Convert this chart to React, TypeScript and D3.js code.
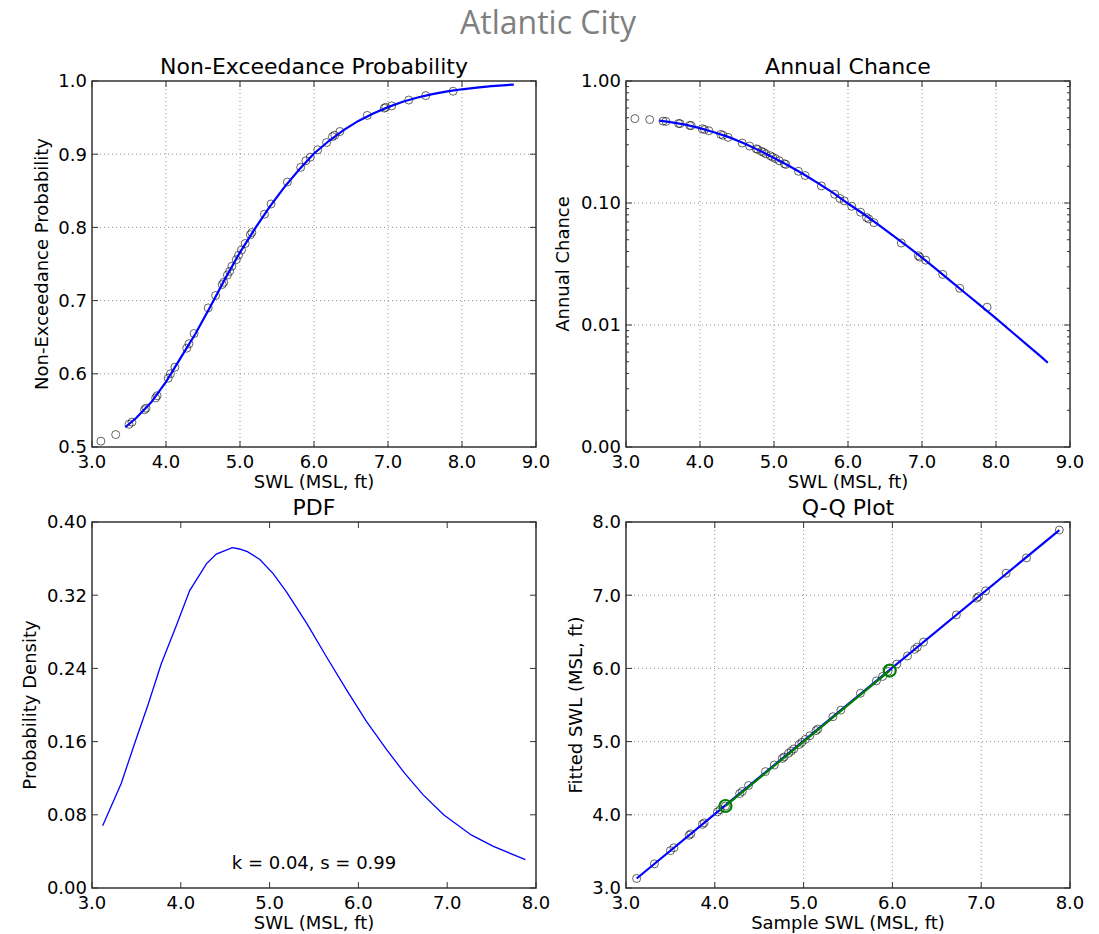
import React from "react";
import * as d3 from "d3";

// ---------- data ----------
const sampleSWL = [3.12, 3.32, 3.50, 3.54, 3.71, 3.73, 3.86, 3.88, 4.03, 4.06, 4.12, 4.28, 4.31, 4.38, 4.57, 4.67, 4.76, 4.78, 4.83, 4.86, 4.89, 4.95, 4.98, 5.02, 5.07, 5.14, 5.16, 5.33, 5.42, 5.64, 5.82, 5.89, 5.95, 6.05, 6.17, 6.25, 6.28, 6.35, 6.72, 6.95, 6.97, 7.05, 7.28, 7.51, 7.88];
const sampleNEP = [0.508, 0.517, 0.531, 0.534, 0.551, 0.553, 0.567, 0.570, 0.594, 0.600, 0.609, 0.635, 0.641, 0.655, 0.690, 0.707, 0.722, 0.725, 0.735, 0.740, 0.747, 0.756, 0.762, 0.769, 0.778, 0.790, 0.793, 0.818, 0.832, 0.862, 0.882, 0.891, 0.896, 0.906, 0.916, 0.924, 0.926, 0.931, 0.953, 0.963, 0.964, 0.966, 0.974, 0.980, 0.986];
const fittedSWL = [3.13, 3.33, 3.51, 3.55, 3.72, 3.74, 3.87, 3.89, 4.04, 4.07, 4.12, 4.29, 4.32, 4.40, 4.59, 4.68, 4.77, 4.79, 4.84, 4.87, 4.90, 4.96, 4.99, 5.03, 5.08, 5.15, 5.17, 5.34, 5.43, 5.66, 5.83, 5.89, 5.96, 6.06, 6.17, 6.26, 6.29, 6.36, 6.73, 6.96, 6.98, 7.06, 7.30, 7.51, 7.89];

const fitX = [3.45, 3.6, 3.8, 4.0, 4.2, 4.4, 4.6, 4.8, 5.0, 5.2, 5.4, 5.6, 5.8, 6.0, 6.2, 6.4, 6.6, 6.8, 7.0, 7.2, 7.4, 7.6, 7.8, 8.0, 8.2, 8.4, 8.6, 8.7];
const fitNEP = [0.527, 0.540, 0.561, 0.589, 0.622, 0.655, 0.692, 0.730, 0.766, 0.798, 0.828, 0.855, 0.879, 0.901, 0.918, 0.933, 0.9455, 0.9557, 0.9643, 0.9716, 0.9774, 0.98205, 0.98572, 0.98868, 0.99107, 0.99296, 0.99445, 0.9951];

const pdfX = [3.12, 3.33, 3.48, 3.63, 3.78, 3.95, 4.10, 4.29, 4.40, 4.58, 4.66, 4.75, 4.89, 5.04, 5.19, 5.42, 5.64, 5.87, 6.09, 6.32, 6.52, 6.73, 6.96, 7.27, 7.52, 7.88];
const pdfY = [0.068, 0.1145, 0.158, 0.200, 0.245, 0.287, 0.325, 0.3545, 0.365, 0.372, 0.3705, 0.3676, 0.359, 0.3436, 0.3236, 0.289, 0.2527, 0.216, 0.182, 0.151, 0.1255, 0.1018, 0.080, 0.058, 0.0455, 0.031];

const qqLineX = [3.12, 7.88];
const qqLineY = [3.13, 7.89];
const qqRangeX = [4.12, 5.97];
const qqRangeY = [4.12, 5.97];

const swlTicks = [3, 4, 5, 6, 7, 8, 9];
const swlTicks8 = [3, 4, 5, 6, 7, 8];
const nepTicks = [0.5, 0.6, 0.7, 0.8, 0.9, 1.0];
const acTicks = [0.001, 0.01, 0.1, 1];
const acTickLabels = ["0.00", "0.01", "0.10", "1.00"];
const pdfTicks = [0, 0.08, 0.16, 0.24, 0.32, 0.4];

const TITLE = "Atlantic City";
const PDF_NOTE = "k = 0.04, s = 0.99";

// ---------- styles ----------
const FONT = "DejaVu Sans, sans-serif";
const TICK_FS = 18;
const LABEL_FS = 18;
const TITLE_FS = 22;
const FRAME = "#333";
const BLUE = "#0000ff";
const GREEN = "#008000";

type PanelProps = {
  left: number; right: number; top: number; bottom: number;
  xDomain: [number, number]; yDomain: [number, number];
  xTicks: number[]; yTicks: number[];
  yLog?: boolean;
  yTickLabels?: string[];
  yFmt?: (v: number) => string;
  grid: boolean;
  title: string; xLabel: string; yLabel: string;
  yLabelOffset: number;
  children: (x: any, y: any) => React.ReactNode;
};

function Panel(p: PanelProps) {
  const x = d3.scaleLinear().domain(p.xDomain).range([p.left, p.right]);
  const y = p.yLog
    ? d3.scaleLog().domain(p.yDomain).range([p.bottom, p.top])
    : d3.scaleLinear().domain(p.yDomain).range([p.bottom, p.top]);
  const xf = d3.format(".1f");
  const yf = p.yFmt || d3.format(".1f");
  const maj = 6;
  const minLen = 3;
  const minorTicks: number[] = [];
  if (p.yLog) {
    for (let e = -3; e < 0; e++) {
      for (let m = 2; m <= 9; m++) minorTicks.push(m * Math.pow(10, e));
    }
  }
  const cx = (p.left + p.right) / 2;
  const cy = (p.top + p.bottom) / 2;
  return (
    <g>
      <defs>
        <clipPath id={`clip-${p.left}-${p.top}`}>
          <rect x={p.left} y={p.top} width={p.right - p.left} height={p.bottom - p.top} />
        </clipPath>
      </defs>
      {p.grid && (
        <g stroke="#000" strokeWidth={0.6} strokeDasharray="1,3" opacity={0.7}>
          {p.xTicks.filter(t => t > p.xDomain[0] && t < p.xDomain[1]).map(t => (
            <line key={"gx" + t} x1={x(t)} x2={x(t)} y1={p.top} y2={p.bottom} />
          ))}
          {p.yTicks.filter(t => t > p.yDomain[0] && t < p.yDomain[1]).map(t => (
            <line key={"gy" + t} x1={p.left} x2={p.right} y1={y(t)} y2={y(t)} />
          ))}
        </g>
      )}
      <g clipPath={`url(#clip-${p.left}-${p.top})`}>{p.children(x, y)}</g>
      {/* ticks */}
      <g stroke={FRAME} strokeWidth={1}>
        {p.xTicks.map(t => (
          <g key={"tx" + t}>
            <line x1={x(t)} x2={x(t)} y1={p.bottom} y2={p.bottom - maj} />
            <line x1={x(t)} x2={x(t)} y1={p.top} y2={p.top + maj} />
          </g>
        ))}
        {p.yTicks.map(t => (
          <g key={"ty" + t}>
            <line x1={p.left} x2={p.left + maj} y1={y(t)} y2={y(t)} />
            <line x1={p.right} x2={p.right - maj} y1={y(t)} y2={y(t)} />
          </g>
        ))}
        {minorTicks.map(t => (
          <g key={"tm" + t}>
            <line x1={p.left} x2={p.left + minLen} y1={y(t)} y2={y(t)} />
            <line x1={p.right} x2={p.right - minLen} y1={y(t)} y2={y(t)} />
          </g>
        ))}
      </g>
      <rect x={p.left} y={p.top} width={p.right - p.left} height={p.bottom - p.top} fill="none" stroke={FRAME} strokeWidth={1.5} />
      {/* tick labels */}
      <g fontFamily={FONT} fontSize={TICK_FS} fill="#000">
        {p.xTicks.map(t => (
          <text key={"lx" + t} x={x(t)} y={p.bottom + 21} textAnchor="middle">{xf(t)}</text>
        ))}
        {p.yTicks.map((t, i) => (
          <text key={"ly" + t} x={p.left - 5} y={y(t)} dy="0.36em" textAnchor="end">
            {p.yTickLabels ? p.yTickLabels[i] : yf(t)}
          </text>
        ))}
      </g>
      <text x={cx} y={p.bottom + 41} textAnchor="middle" fontFamily={FONT} fontSize={LABEL_FS}>{p.xLabel}</text>
      <text transform={`translate(${p.left - p.yLabelOffset},${cy}) rotate(-90)`} textAnchor="middle" fontFamily={FONT} fontSize={LABEL_FS}>{p.yLabel}</text>
      <text x={cx} y={p.top - 7} textAnchor="middle" fontFamily={FONT} fontSize={TITLE_FS}>{p.title}</text>
    </g>
  );
}

function Circles({ xs, ys, x, y }: { xs: number[]; ys: number[]; x: any; y: any }) {
  return (
    <g fill="none" stroke="#000" strokeOpacity={0.6} strokeWidth={1}>
      {xs.map((v, i) => (
        <circle key={i} cx={x(v)} cy={y(ys[i])} r={4} />
      ))}
    </g>
  );
}

export default function App() {
  const L1 = 92, R1 = 536, L2 = 626, R2 = 1070;
  const T1 = 81, B1 = 447, T2 = 522, B2 = 888;
  const acSample = sampleNEP.map(v => 1 - v);
  const acFit = fitNEP.map(v => 1 - v);
  const lineGen = (x: any, y: any, xs: number[], ys: number[]) =>
    d3.line<number>().x((_, i) => x(xs[i])).y((d) => y(d))(ys) || "";
  return (
    <svg width={1099} height={934} style={{ position: "absolute", left: 0, top: 0, background: "#fff" }}>
      <rect x={0} y={0} width={1099} height={934} fill="#fff" />
      <text x={548} y={34} textAnchor="middle" fontFamily="Open Sans, sans-serif" fontSize={32} fill="#7f7f7f">{TITLE}</text>

      <Panel left={L1} right={R1} top={T1} bottom={B1} xDomain={[3, 9]} yDomain={[0.5, 1.0]}
        xTicks={swlTicks} yTicks={nepTicks} grid title="Non-Exceedance Probability"
        xLabel="SWL (MSL, ft)" yLabel="Non-Exceedance Probability" yLabelOffset={44}>
        {(x, y) => (
          <g>
            <Circles xs={sampleSWL} ys={sampleNEP} x={x} y={y} />
            <path d={lineGen(x, y, fitX, fitNEP)} fill="none" stroke={BLUE} strokeWidth={2.2} />
          </g>
        )}
      </Panel>

      <Panel left={L2} right={R2} top={T1} bottom={B1} xDomain={[3, 9]} yDomain={[0.001, 1]} yLog
        xTicks={swlTicks} yTicks={acTicks} yTickLabels={acTickLabels} grid title="Annual Chance"
        xLabel="SWL (MSL, ft)" yLabel="Annual Chance" yLabelOffset={57}>
        {(x, y) => (
          <g>
            <Circles xs={sampleSWL} ys={acSample} x={x} y={y} />
            <path d={lineGen(x, y, fitX, acFit)} fill="none" stroke={BLUE} strokeWidth={2.2} />
          </g>
        )}
      </Panel>

      <Panel left={L1} right={R1} top={T2} bottom={B2} xDomain={[3, 8]} yDomain={[0, 0.4]}
        xTicks={swlTicks8} yTicks={pdfTicks} yFmt={d3.format(".2f")} grid={false} title="PDF"
        xLabel="SWL (MSL, ft)" yLabel="Probability Density" yLabelOffset={56}>
        {(x, y) => (
          <g>
            <path d={lineGen(x, y, pdfX, pdfY)} fill="none" stroke={BLUE} strokeWidth={1.3} />
            <text x={(L1 + R1) / 2} y={869} textAnchor="middle" fontFamily={FONT} fontSize={18}>{PDF_NOTE}</text>
          </g>
        )}
      </Panel>

      <Panel left={L2} right={R2} top={T2} bottom={B2} xDomain={[3, 8]} yDomain={[3, 8]}
        xTicks={swlTicks8} yTicks={swlTicks8} grid title="Q-Q Plot"
        xLabel="Sample SWL (MSL, ft)" yLabel="Fitted SWL (MSL, ft)" yLabelOffset={44}>
        {(x, y) => (
          <g>
            <Circles xs={sampleSWL} ys={fittedSWL} x={x} y={y} />
            <path d={lineGen(x, y, qqLineX, qqLineY)} fill="none" stroke={BLUE} strokeWidth={2.2} />
            <path d={lineGen(x, y, qqRangeX, qqRangeY)} fill="none" stroke={GREEN} strokeWidth={2.2} />
            <g fill="none" stroke={GREEN} strokeWidth={2.2}>
              {qqRangeX.map((v, i) => (
                <circle key={i} cx={x(v)} cy={y(qqRangeY[i])} r={6} />
              ))}
            </g>
          </g>
        )}
      </Panel>
    </svg>
  );
}
